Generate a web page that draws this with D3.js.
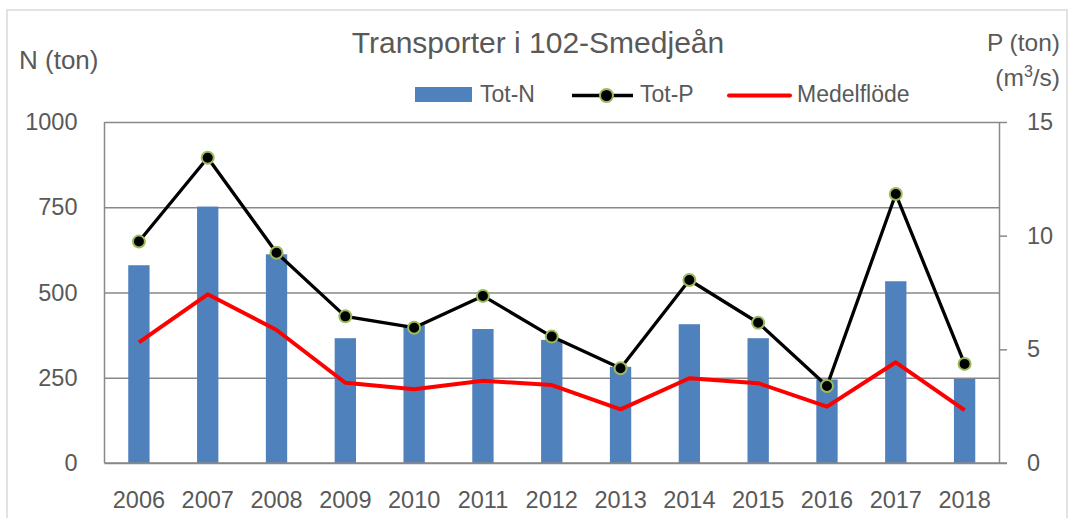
<!DOCTYPE html>
<html>
<head>
<meta charset="utf-8">
<script src="https://cdn.jsdelivr.net/npm/d3@7"></script>
<style>
  body { margin: 0; background: #fff; }
  text { font-family: "Liberation Sans", Arial, sans-serif; fill: #595959; }
</style>
</head>
<body>
<div id="chart"></div>
<script>
const years = ['2006', '2007', '2008', '2009', '2010', '2011', '2012', '2013', '2014', '2015', '2016', '2017', '2018'];
const totN = [580, 752, 612, 366, 404, 393, 361, 282, 407, 366, 245, 533, 247];
const totP = [9.74, 13.43, 9.25, 6.45, 5.95, 7.35, 5.56, 4.17, 8.05, 6.17, 3.39, 11.83, 4.36];
const medelflode = [5.31, 7.42, 5.85, 3.53, 3.24, 3.62, 3.43, 2.36, 3.73, 3.51, 2.48, 4.43, 2.33];
const leftTicks = [0, 250, 500, 750, 1000];
const rightTicks = [0, 5, 10, 15];

const W = 1070, H = 518;
const plot = { left: 104.5, right: 999, top: 122, bottom: 463 };

const svg = d3.select("#chart")
  .append("svg")
  .attr("width", W)
  .attr("height", H);

// chart border
svg.append("rect")
  .attr("x", 7).attr("y", 10)
  .attr("width", 1060).attr("height", 520)
  .style("fill", "none")
  .style("stroke", "#d9d9d9")
  .style("stroke-width", 1.5);

const x = d3.scaleBand()
  .domain(years)
  .range([plot.left, plot.right])
  .paddingInner(0.69)
  .paddingOuter(0.345);

const yL = d3.scaleLinear().domain([0, 1000]).range([plot.bottom, plot.top]);
const yR = d3.scaleLinear().domain([0, 15]).range([plot.bottom, plot.top]);

const cx = d => x(d) + x.bandwidth() / 2;

// gridlines + left labels (left axis, no tick marks)
const yAxisL = d3.axisLeft(yL)
  .tickValues(leftTicks)
  .tickSize(-(plot.right - plot.left))
  .tickPadding(27)
  .tickFormat(d3.format("d"));

const gL = svg.append("g")
  .attr("transform", `translate(${plot.left},0)`)
  .call(yAxisL);
gL.select(".domain").remove();
gL.selectAll("line").style("stroke", "#898989").style("stroke-width", 1.3);
gL.selectAll("text")
  .style("font-size", "23.5px")
  .style("fill", "#595959")
  .style("font-family", '"Liberation Sans", Arial, sans-serif');

// left axis line
svg.append("line")
  .attr("x1", plot.left).attr("x2", plot.left)
  .attr("y1", plot.top).attr("y2", plot.bottom)
  .style("stroke", "#898989").style("stroke-width", 1.5);

// bars
svg.selectAll(".bar")
  .data(years)
  .enter().append("rect")
  .attr("class", "bar")
  .attr("x", d => x(d))
  .attr("width", x.bandwidth())
  .attr("y", (d, i) => yL(totN[i]))
  .attr("height", (d, i) => plot.bottom - yL(totN[i]))
  .style("fill", "#4f81bd");

// bottom axis
const xAxis = d3.axisBottom(x).tickSize(0).tickPadding(28);
const gX = svg.append("g")
  .attr("transform", `translate(0,${plot.bottom})`)
  .call(xAxis);
gX.select(".domain").remove();
gX.selectAll("text")
  .style("font-size", "23.5px")
  .style("fill", "#595959")
  .style("font-family", '"Liberation Sans", Arial, sans-serif');

svg.append("line")
  .attr("x1", plot.left).attr("x2", plot.right + 8)
  .attr("y1", plot.bottom).attr("y2", plot.bottom)
  .style("stroke", "#898989").style("stroke-width", 1.5);

// right axis
const yAxisR = d3.axisRight(yR)
  .tickValues(rightTicks)
  .tickSize(8)
  .tickSizeOuter(0)
  .tickPadding(20);
const gR = svg.append("g")
  .attr("transform", `translate(${plot.right},0)`)
  .call(yAxisR);
gR.select(".domain").style("stroke", "#898989").style("stroke-width", 1.5);
gR.selectAll("line").style("stroke", "#898989").style("stroke-width", 1.5);
gR.selectAll("text")
  .style("font-size", "23.5px")
  .style("fill", "#595959")
  .style("font-family", '"Liberation Sans", Arial, sans-serif');

// Tot-P line
const lineP = d3.line()
  .x((d, i) => cx(years[i]))
  .y(d => yR(d));

svg.append("path")
  .datum(totP)
  .attr("d", lineP)
  .style("fill", "none")
  .style("stroke", "#000")
  .style("stroke-width", 3.3)
  .style("stroke-linejoin", "round");

svg.selectAll(".marker")
  .data(totP)
  .enter().append("circle")
  .attr("class", "marker")
  .attr("cx", (d, i) => cx(years[i]))
  .attr("cy", d => yR(d))
  .attr("r", 6)
  .style("fill", "#000")
  .style("stroke", "#9bbb59")
  .style("stroke-width", 2);

// Medelflöde line
svg.append("path")
  .datum(medelflode)
  .attr("d", lineP)
  .style("fill", "none")
  .style("stroke", "#ff0000")
  .style("stroke-width", 4)
  .style("stroke-linejoin", "round");

// title
svg.append("text")
  .attr("x", 538).attr("y", 53)
  .attr("text-anchor", "middle")
  .style("font-size", "30px")
  .text("Transporter i 102-Smedjeån");

// axis titles
svg.append("text")
  .attr("x", 19).attr("y", 69)
  .style("font-size", "26px")
  .text("N (ton)");

svg.append("text")
  .attr("x", 1060).attr("y", 51)
  .attr("text-anchor", "end")
  .style("font-size", "24.5px")
  .text("P (ton)");

const unit = svg.append("text")
  .attr("x", 1060).attr("y", 86)
  .attr("text-anchor", "end")
  .style("font-size", "24.5px");
unit.append("tspan").text("(m");
unit.append("tspan").attr("dy", -9).style("font-size", "16px").text("3");
unit.append("tspan").attr("dy", 9).text("/s)");

// legend
const lg = svg.append("g");
lg.append("rect")
  .attr("x", 415).attr("y", 87)
  .attr("width", 57).attr("height", 15)
  .style("fill", "#4f81bd");
lg.append("text").attr("x", 480).attr("y", 102).style("font-size", "23px").text("Tot-N");

lg.append("line")
  .attr("x1", 572).attr("x2", 633).attr("y1", 95.5).attr("y2", 95.5)
  .style("stroke", "#000").style("stroke-width", 3.3);
lg.append("circle")
  .attr("cx", 606.5).attr("cy", 95.5).attr("r", 6.5)
  .style("fill", "#000").style("stroke", "#9bbb59").style("stroke-width", 2);
lg.append("text").attr("x", 640).attr("y", 102).style("font-size", "23px").text("Tot-P");

lg.append("line")
  .attr("x1", 729).attr("x2", 790).attr("y1", 95.5).attr("y2", 95.5)
  .style("stroke", "#ff0000").style("stroke-width", 4).style("stroke-linecap", "round");
lg.append("text").attr("x", 797).attr("y", 102).style("font-size", "23px").text("Medelflöde");
</script>
</body>
</html>
